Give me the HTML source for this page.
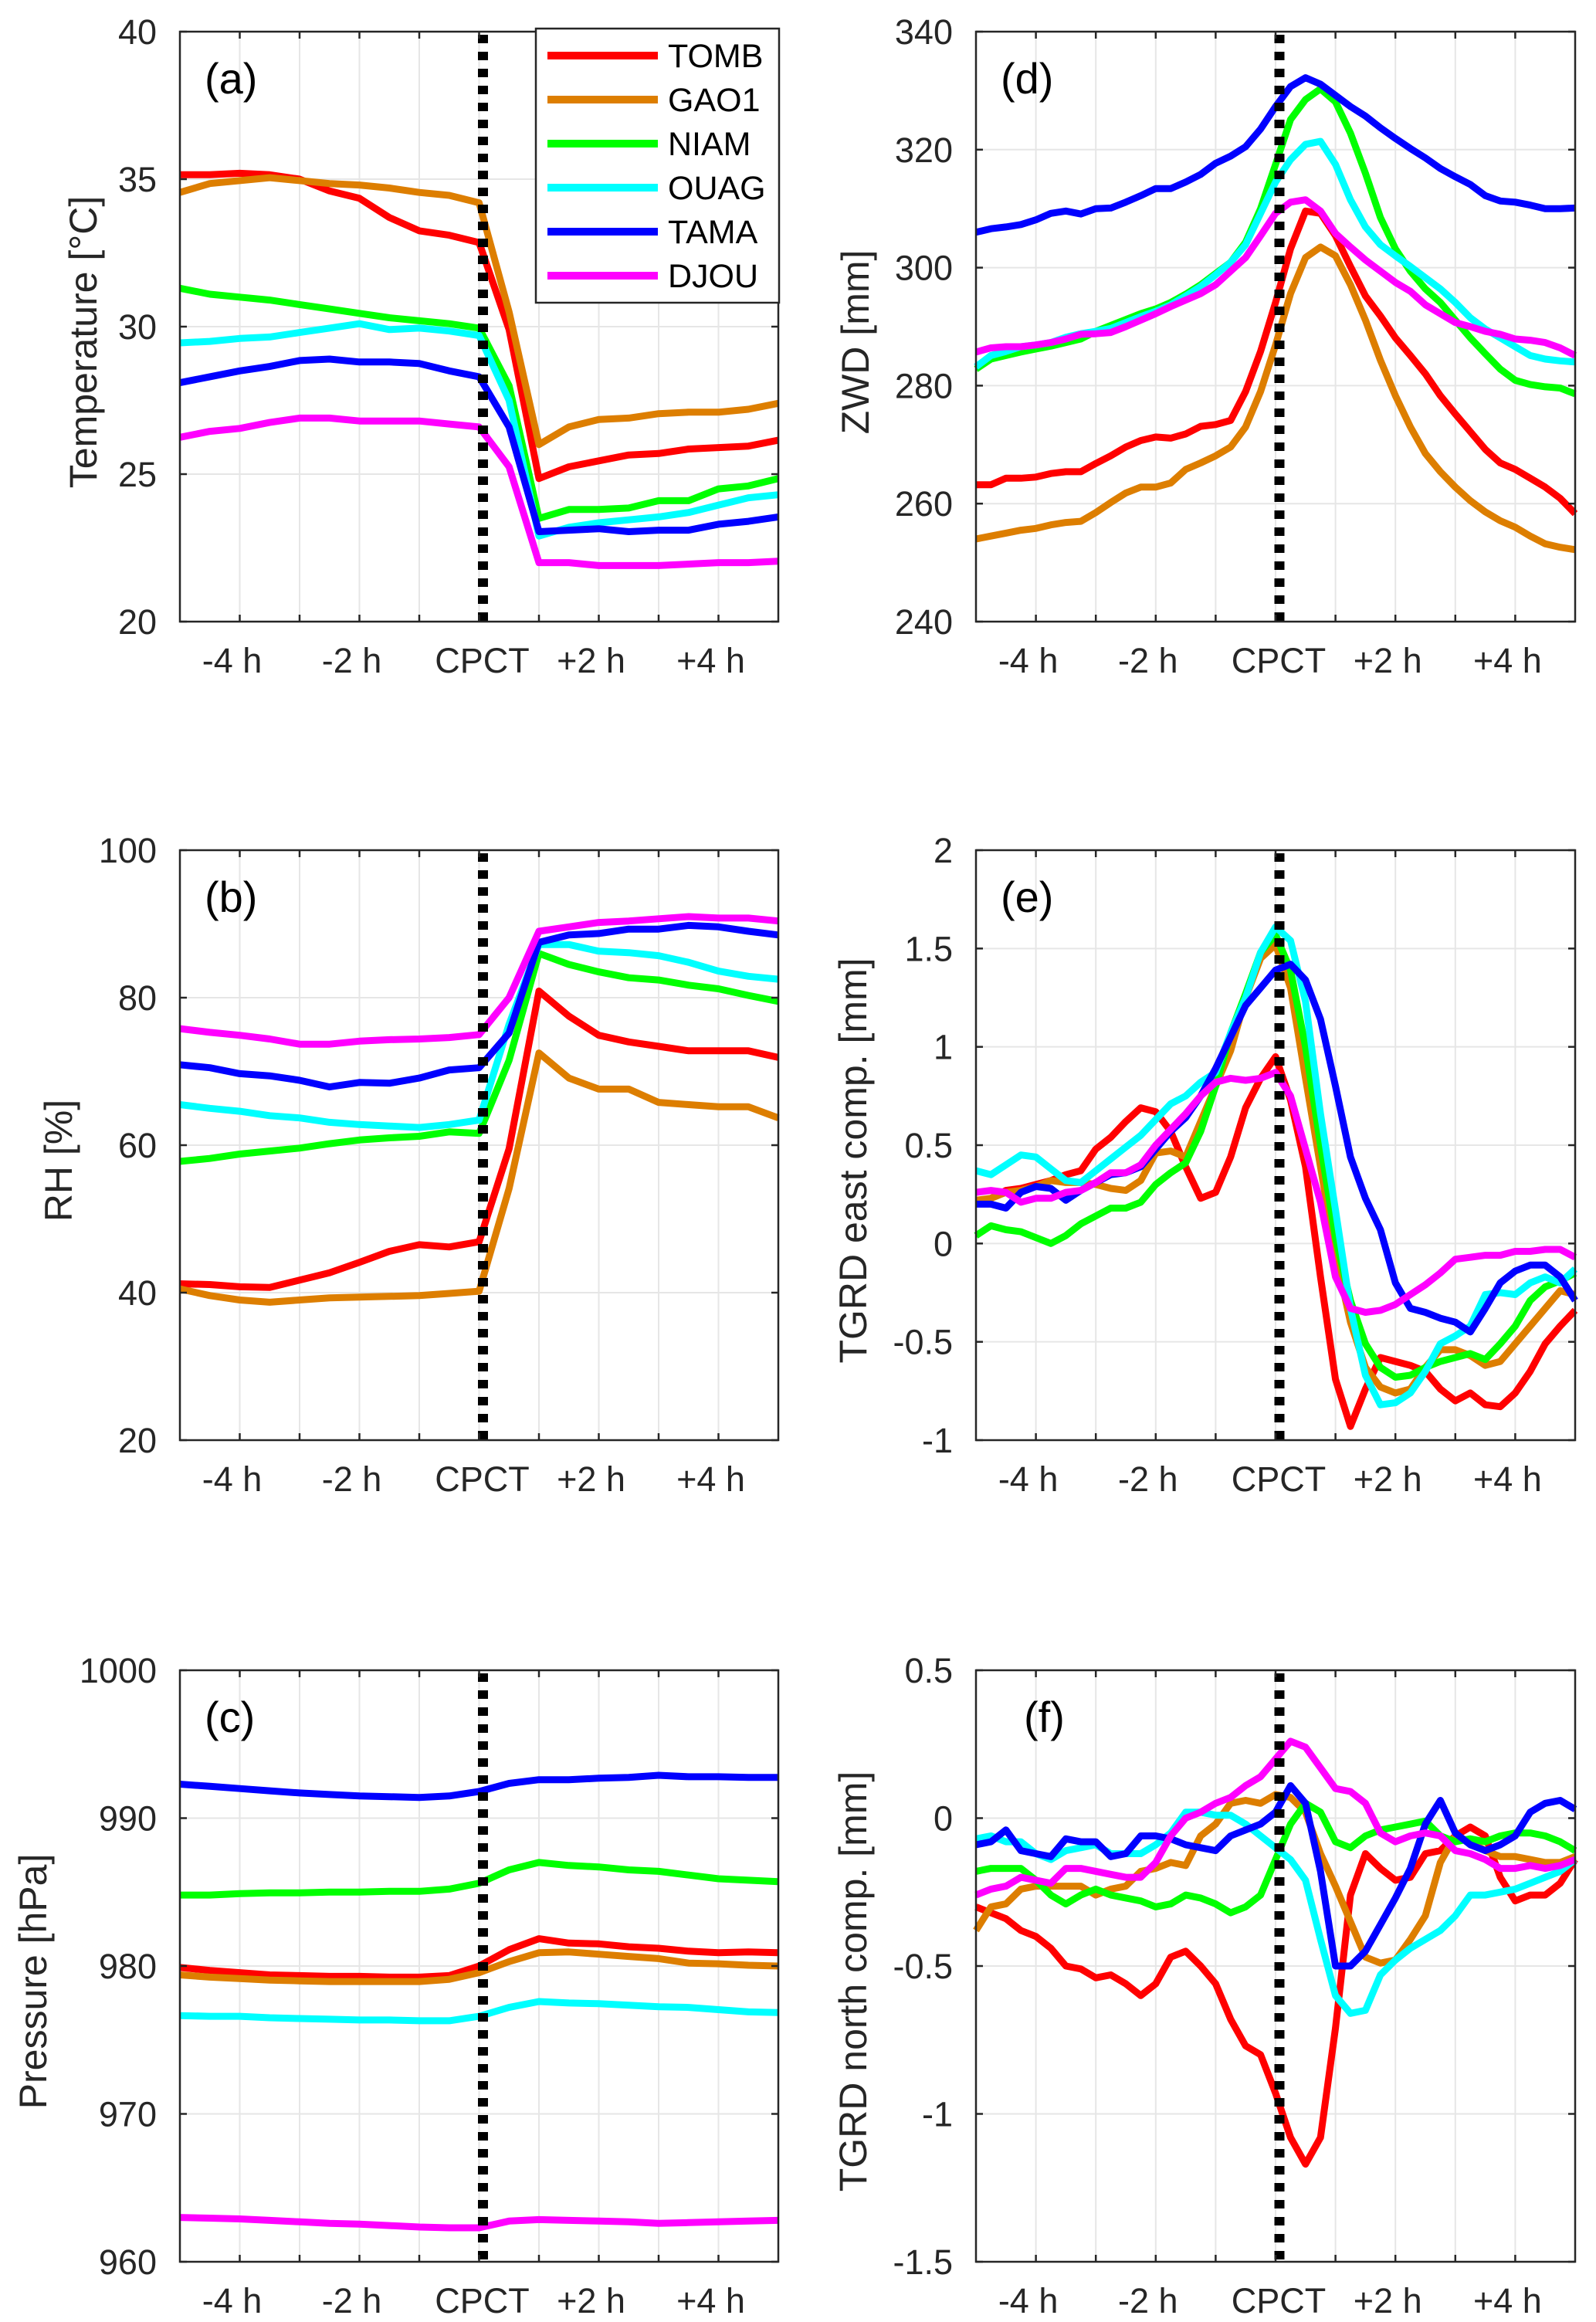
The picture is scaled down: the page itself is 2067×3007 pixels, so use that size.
<!DOCTYPE html>
<html><head><meta charset="utf-8"><style>
html,body{margin:0;padding:0;background:#fff}
svg{display:block}
text{font-family:"Liberation Sans",Arial,sans-serif}
</style></head><body>
<svg id="fig" width="2067" height="3007" viewBox="0 0 2067 3007" xmlns="http://www.w3.org/2000/svg"></svg>
<script>
const tHalf = [-5,-4.5,-4,-3.5,-3,-2.5,-2,-1.5,-1,-0.5,0,0.5,1,1.5,2,2.5,3,3.5,4,4.5,5];
const tQuarter = [-5,-4.75,-4.5,-4.25,-4,-3.75,-3.5,-3.25,-3,-2.75,-2.5,-2.25,-2,-1.75,-1.5,-1.25,-1,-0.75,-0.5,-0.25,0,0.25,0.5,0.75,1,1.25,1.5,1.75,2,2.25,2.5,2.75,3,3.25,3.5,3.75,4,4.25,4.5,4.75,5];
const stations = ["TOMB","GAO1","NIAM","OUAG","TAMA","DJOU"];
const colors = ["#ff0000","#dd7e00","#00ff00","#00ffff","#0000ff","#ff00ff"];
const xTickHours = [-4,-2,0,2,4];
const xTickLabels = ["-4 h","-2 h","CPCT","+2 h","+4 h"];

// (a) Temperature
const tempTOMB=[35.15,35.15,35.2,35.15,35.0,34.6,34.35,33.7,33.25,33.1,32.85,29.9,24.85,25.25,25.45,25.65,25.7,25.85,25.9,25.95,26.15];
const tempGAO1=[34.55,34.85,34.95,35.05,34.95,34.85,34.8,34.7,34.55,34.45,34.2,30.5,26.0,26.6,26.85,26.9,27.05,27.1,27.1,27.2,27.4];
const tempNIAM=[31.3,31.1,31.0,30.9,30.75,30.6,30.45,30.3,30.2,30.1,29.95,28.0,23.5,23.8,23.8,23.85,24.1,24.1,24.5,24.6,24.85];
const tempOUAG=[29.45,29.5,29.6,29.65,29.8,29.95,30.1,29.9,29.95,29.85,29.7,27.5,22.9,23.2,23.35,23.45,23.55,23.7,23.95,24.2,24.3];
const tempTAMA=[28.1,28.3,28.5,28.65,28.85,28.9,28.8,28.8,28.75,28.5,28.3,26.6,23.05,23.1,23.15,23.05,23.1,23.1,23.3,23.4,23.55];
const tempDJOU=[26.25,26.45,26.55,26.75,26.9,26.9,26.8,26.8,26.8,26.7,26.6,25.25,22.0,22.0,21.9,21.9,21.9,21.95,22.0,22.0,22.05];
// (b) RH
const rhTOMB=[41.2,41.1,40.8,40.7,41.7,42.7,44.1,45.6,46.5,46.2,46.9,59.5,80.9,77.5,74.9,74.0,73.4,72.8,72.8,72.8,71.9];
const rhGAO1=[40.5,39.6,39.0,38.7,39.0,39.3,39.4,39.5,39.6,39.9,40.2,54.1,72.5,69.1,67.6,67.6,65.8,65.5,65.2,65.2,63.7];
const rhNIAM=[57.8,58.2,58.8,59.2,59.6,60.2,60.7,61.0,61.2,61.8,61.6,71.5,86.0,84.5,83.5,82.7,82.4,81.7,81.2,80.3,79.5];
const rhOUAG=[65.5,65.0,64.6,64.0,63.7,63.1,62.8,62.6,62.4,62.8,63.4,76.4,87.2,87.2,86.3,86.1,85.7,84.8,83.6,82.9,82.5];
const rhTAMA=[70.9,70.5,69.7,69.4,68.8,67.9,68.5,68.4,69.1,70.2,70.5,75.2,87.5,88.5,88.7,89.3,89.3,89.8,89.6,89.0,88.5];
const rhDJOU=[75.8,75.3,74.9,74.4,73.7,73.7,74.1,74.3,74.4,74.6,75.0,80.0,89.0,89.6,90.2,90.4,90.7,91.0,90.8,90.8,90.4];
// (c) Pressure
const pTOMB=[979.9,979.7,979.55,979.4,979.35,979.3,979.3,979.25,979.25,979.35,980.0,981.1,981.85,981.55,981.5,981.3,981.2,981.0,980.9,980.95,980.9];
const pGAO1=[979.4,979.25,979.15,979.05,979.0,978.95,978.95,978.95,978.95,979.1,979.55,980.3,980.9,980.95,980.8,980.65,980.5,980.2,980.15,980.05,980.0];
const pNIAM=[984.8,984.8,984.9,984.95,984.95,985.0,985.0,985.05,985.05,985.2,985.6,986.5,987.0,986.8,986.7,986.5,986.4,986.15,985.9,985.8,985.7];
const pOUAG=[976.65,976.6,976.6,976.5,976.45,976.4,976.35,976.35,976.3,976.3,976.6,977.2,977.6,977.5,977.45,977.35,977.25,977.2,977.05,976.9,976.85];
const pTAMA=[992.3,992.15,992.0,991.85,991.7,991.6,991.5,991.45,991.4,991.5,991.8,992.35,992.6,992.6,992.7,992.75,992.9,992.8,992.8,992.75,992.75];
const pDJOU=[963.0,962.95,962.9,962.8,962.7,962.6,962.55,962.45,962.35,962.3,962.3,962.75,962.85,962.8,962.75,962.7,962.6,962.65,962.7,962.75,962.8];
// (d) ZWD
const zwdTOMB=[263.2,263.2,264.3,264.3,264.5,265.1,265.4,265.4,266.8,268.1,269.6,270.7,271.3,271.1,271.8,273.1,273.4,274.1,279.0,285.8,294.1,303.2,309.6,309.2,305.4,300.2,295.2,291.8,288.1,285.1,282.0,278.3,275.2,272.2,269.2,266.9,265.8,264.3,262.8,260.9,258.3];
const zwdGAO1=[254.0,254.5,255.0,255.5,255.8,256.4,256.8,257.0,258.5,260.2,261.8,262.8,262.8,263.5,265.8,266.9,268.1,269.6,273.0,279.0,286.9,295.6,301.7,303.5,302.0,297.1,291.1,284.3,278.3,273.0,268.5,265.4,262.8,260.5,258.6,257.1,256.0,254.5,253.2,252.6,252.2];
const zwdNIAM=[282.8,284.5,285.1,285.7,286.2,286.7,287.3,287.9,289.2,290.2,291.2,292.2,293.0,294.1,295.5,297.1,299.0,300.9,304.3,310.0,317.5,325.1,328.5,330.3,328.1,322.8,316.0,308.5,303.2,299.4,296.4,294.1,291.1,288.1,285.4,282.8,280.9,280.2,279.8,279.6,278.6];
const zwdOUAG=[283.2,285.1,285.8,286.6,286.9,287.3,288.2,288.8,289.2,289.7,290.7,291.7,292.6,293.7,295.2,296.8,298.8,300.9,303.9,309.2,314.5,318.3,320.9,321.4,317.5,311.5,306.9,303.9,302.0,300.2,298.3,296.4,294.1,291.5,289.6,288.1,286.6,285.1,284.5,284.2,284.0];
const zwdTAMA=[306.0,306.6,306.9,307.3,308.1,309.2,309.6,309.1,310.0,310.1,311.1,312.2,313.4,313.4,314.5,315.8,317.7,318.9,320.5,323.5,327.3,330.7,332.2,331.1,329.2,327.3,325.7,323.7,321.9,320.2,318.6,316.8,315.4,314.1,312.2,311.3,311.1,310.6,310.0,310.0,310.1];
const zwdDJOU=[285.7,286.4,286.6,286.6,286.9,287.3,287.9,288.7,288.8,289.0,290.0,291.1,292.2,293.4,294.5,295.6,297.1,299.4,301.7,305.4,309.2,311.1,311.5,309.6,305.8,303.5,301.3,299.4,297.5,296.0,293.7,292.2,290.7,290.0,289.2,288.7,287.9,287.7,287.3,286.4,285.1];
// (e) TGRD east
const eTOMB=[0.21,0.23,0.27,0.28,0.30,0.32,0.35,0.37,0.48,0.54,0.62,0.69,0.67,0.57,0.39,0.23,0.26,0.44,0.69,0.84,0.95,0.73,0.39,-0.17,-0.69,-0.93,-0.74,-0.58,-0.60,-0.62,-0.65,-0.74,-0.80,-0.76,-0.82,-0.83,-0.76,-0.65,-0.51,-0.42,-0.34];
const eGAO1=[0.22,0.23,0.26,0.27,0.29,0.32,0.31,0.31,0.30,0.28,0.27,0.32,0.46,0.47,0.44,0.62,0.80,0.98,1.25,1.45,1.52,1.30,0.84,0.39,-0.06,-0.40,-0.63,-0.73,-0.76,-0.74,-0.63,-0.54,-0.54,-0.57,-0.62,-0.60,-0.51,-0.42,-0.33,-0.24,-0.26];
const eNIAM=[0.04,0.09,0.07,0.06,0.03,0.00,0.04,0.10,0.14,0.18,0.18,0.21,0.30,0.36,0.41,0.57,0.80,1.07,1.27,1.48,1.57,1.39,1.00,0.50,0.03,-0.29,-0.51,-0.63,-0.68,-0.67,-0.63,-0.60,-0.58,-0.56,-0.59,-0.51,-0.42,-0.29,-0.22,-0.19,-0.15];
const eOUAG=[0.37,0.35,0.40,0.45,0.44,0.38,0.32,0.31,0.37,0.43,0.49,0.55,0.63,0.71,0.75,0.82,0.87,1.07,1.25,1.48,1.61,1.54,1.23,0.66,0.17,-0.33,-0.67,-0.82,-0.81,-0.76,-0.65,-0.51,-0.47,-0.42,-0.26,-0.25,-0.26,-0.20,-0.17,-0.20,-0.13];
const eTAMA=[0.20,0.20,0.18,0.26,0.29,0.28,0.22,0.27,0.31,0.35,0.36,0.39,0.48,0.57,0.64,0.75,0.89,1.05,1.21,1.30,1.39,1.42,1.34,1.14,0.80,0.44,0.23,0.07,-0.20,-0.33,-0.35,-0.38,-0.40,-0.45,-0.33,-0.20,-0.14,-0.11,-0.11,-0.17,-0.29];
const eDJOU=[0.26,0.27,0.26,0.21,0.23,0.23,0.26,0.27,0.31,0.36,0.36,0.40,0.50,0.58,0.66,0.75,0.82,0.84,0.83,0.84,0.87,0.75,0.48,0.21,-0.17,-0.33,-0.35,-0.34,-0.31,-0.26,-0.21,-0.15,-0.08,-0.07,-0.06,-0.06,-0.04,-0.04,-0.03,-0.03,-0.07];
// (f) TGRD north
const nTOMB=[-0.30,-0.32,-0.34,-0.38,-0.40,-0.44,-0.50,-0.51,-0.54,-0.53,-0.56,-0.60,-0.56,-0.47,-0.45,-0.50,-0.56,-0.68,-0.77,-0.80,-0.93,-1.08,-1.17,-1.08,-0.71,-0.26,-0.12,-0.17,-0.21,-0.20,-0.12,-0.11,-0.06,-0.03,-0.06,-0.20,-0.28,-0.26,-0.26,-0.22,-0.14];
const nGAO1=[-0.38,-0.30,-0.29,-0.24,-0.23,-0.23,-0.23,-0.23,-0.26,-0.24,-0.23,-0.18,-0.17,-0.15,-0.16,-0.06,-0.02,0.05,0.06,0.05,0.08,0.07,0.02,-0.12,-0.23,-0.35,-0.47,-0.49,-0.48,-0.41,-0.33,-0.15,-0.06,-0.08,-0.11,-0.13,-0.13,-0.14,-0.15,-0.15,-0.13];
const nNIAM=[-0.18,-0.17,-0.17,-0.17,-0.21,-0.26,-0.29,-0.26,-0.24,-0.26,-0.27,-0.28,-0.30,-0.29,-0.26,-0.27,-0.29,-0.32,-0.30,-0.26,-0.14,-0.02,0.05,0.02,-0.08,-0.10,-0.06,-0.04,-0.03,-0.02,-0.01,-0.06,-0.08,-0.07,-0.08,-0.06,-0.05,-0.05,-0.06,-0.08,-0.11];
const nOUAG=[-0.07,-0.06,-0.08,-0.08,-0.12,-0.14,-0.11,-0.10,-0.09,-0.12,-0.12,-0.12,-0.09,-0.05,0.02,0.02,0.01,0.01,-0.02,-0.06,-0.10,-0.14,-0.21,-0.41,-0.60,-0.66,-0.65,-0.53,-0.48,-0.44,-0.41,-0.38,-0.33,-0.26,-0.26,-0.25,-0.24,-0.22,-0.20,-0.18,-0.14];
const nTAMA=[-0.09,-0.08,-0.04,-0.11,-0.12,-0.13,-0.07,-0.08,-0.08,-0.13,-0.12,-0.06,-0.06,-0.07,-0.09,-0.10,-0.11,-0.06,-0.04,-0.02,0.02,0.11,0.05,-0.18,-0.50,-0.50,-0.45,-0.36,-0.27,-0.17,-0.02,0.06,-0.05,-0.09,-0.11,-0.09,-0.06,0.02,0.05,0.06,0.03];
const nDJOU=[-0.26,-0.24,-0.23,-0.20,-0.21,-0.22,-0.17,-0.17,-0.18,-0.19,-0.20,-0.20,-0.15,-0.06,0.00,0.02,0.05,0.07,0.11,0.14,0.20,0.26,0.24,0.17,0.10,0.09,0.05,-0.05,-0.08,-0.06,-0.05,-0.06,-0.11,-0.12,-0.14,-0.17,-0.17,-0.16,-0.17,-0.16,-0.14];

const yTicksA=[20,25,30,35,40], yTicksB=[20,40,60,80,100], yTicksC=[960,970,980,990,1000];
const yTicksD=[240,260,280,300,320,340], yTicksE=[-1,-0.5,0,0.5,1,1.5,2], yTicksF=[-1.5,-1,-0.5,0,0.5];

const NS="http://www.w3.org/2000/svg";
const svg=document.getElementById('fig');
function mk(tag,attrs,parent){const e=document.createElementNS(NS,tag);for(const k in attrs)e.setAttribute(k,attrs[k]);(parent||svg).appendChild(e);return e;}

const panels=[
 {id:'a',x0:233,x1:1008,y0:41,y1:805,ymin:20,ymax:40,ticks:yTicksA,label:'Temperature [°C]',lx:108,t:tHalf,series:[tempTOMB,tempGAO1,tempNIAM,tempOUAG,tempTAMA,tempDJOU],legend:true},
 {id:'b',x0:233,x1:1008,y0:1101,y1:1865,ymin:20,ymax:100,ticks:yTicksB,label:'RH [%]',lx:76,t:tHalf,series:[rhTOMB,rhGAO1,rhNIAM,rhOUAG,rhTAMA,rhDJOU]},
 {id:'c',x0:233,x1:1008,y0:2163,y1:2929,ymin:960,ymax:1000,ticks:yTicksC,label:'Pressure [hPa]',lx:43,t:tHalf,series:[pTOMB,pGAO1,pNIAM,pOUAG,pTAMA,pDJOU]},
 {id:'d',x0:1264,x1:2040,y0:41,y1:805,ymin:240,ymax:340,ticks:yTicksD,label:'ZWD [mm]',lx:1108,t:tQuarter,series:[zwdTOMB,zwdGAO1,zwdNIAM,zwdOUAG,zwdTAMA,zwdDJOU]},
 {id:'e',x0:1264,x1:2040,y0:1101,y1:1865,ymin:-1,ymax:2,ticks:yTicksE,label:'TGRD east comp. [mm]',lx:1105,t:tQuarter,series:[eTOMB,eGAO1,eNIAM,eOUAG,eTAMA,eDJOU]},
 {id:'f',x0:1264,x1:2040,y0:2163,y1:2929,ymin:-1.5,ymax:0.5,ticks:yTicksF,label:'TGRD north comp. [mm]',lx:1105,t:tQuarter,series:[nTOMB,nGAO1,nNIAM,nOUAG,nTAMA,nDJOU]}
];

panels.forEach(p=>{
  const g=mk('g',{});
  
  
  const xs=h=>p.x0+(h+5)/10*(p.x1-p.x0);
  const ys=v=>p.y1-(v-p.ymin)/(p.ymax-p.ymin)*(p.y1-p.y0);
  // grid
  for(let h=-4;h<=4;h++){
    const l=mk('line',{x1:xs(h),x2:xs(h),y1:p.y0,y2:p.y1,stroke:'#e6e6e6','stroke-width':2},g);
    
    
  }
  p.ticks.forEach(v=>{
    const l=mk('line',{x1:p.x0,x2:p.x1,y1:ys(v),y2:ys(v),stroke:'#e6e6e6','stroke-width':2},g);
    
    
  });
  // series
  p.series.forEach((arr,i)=>{
    const d=arr.map((v,k)=>(k?'L':'M')+xs(p.t[k]).toFixed(1)+','+ys(v).toFixed(1)).join(' ');
    const path=mk('path',{d:d,fill:'none',stroke:colors[i],'stroke-width':9,'stroke-linejoin':'round','stroke-linecap':'butt'},g);
    
    
  });
  // CPCT line
  const cp=mk('line',{x1:xs(0)+5,x2:xs(0)+5,y1:p.y0+4,y2:p.y1,stroke:'#000','stroke-width':13,'stroke-dasharray':'11 11'},g);
  
  
  // axes box
  const box=mk('rect',{x:p.x0,y:p.y0,width:p.x1-p.x0,height:p.y1-p.y0,fill:'none',stroke:'#262626','stroke-width':2.5},g);
  
  
  for(let h=-4;h<=4;h++){
    mk('line',{x1:xs(h),x2:xs(h),y1:p.y1,y2:p.y1-9,stroke:'#262626','stroke-width':2.5},g);
    mk('line',{x1:xs(h),x2:xs(h),y1:p.y0,y2:p.y0+9,stroke:'#262626','stroke-width':2.5},g);
  }
  p.ticks.forEach(v=>{
    mk('line',{x1:p.x0,x2:p.x0+9,y1:ys(v),y2:ys(v),stroke:'#262626','stroke-width':2.5},g);
    mk('line',{x1:p.x1,x2:p.x1-9,y1:ys(v),y2:ys(v),stroke:'#262626','stroke-width':2.5},g);
    const t=mk('text',{x:p.x0-30,y:ys(v)+16,'text-anchor':'end','font-size':45,fill:'#262626'},g);
    t.textContent=String(v);
    
    
  });
  xTickHours.forEach((h,i)=>{
    const t=mk('text',{x:xs(h)+(h===0?4:-10),y:p.y1+66,'text-anchor':'middle','font-size':45,fill:'#262626'},g);
    t.textContent=xTickLabels[i];
    
    
  });
  const cy=(p.y0+p.y1)/2+20;
  const yl=mk('text',{x:p.lx,y:cy,'text-anchor':'middle','dominant-baseline':'central','font-size':50,fill:'#262626',transform:'rotate(-90 '+p.lx+' '+cy+')'},g);
  yl.textContent=p.label;
  
  
  const pl=mk('text',{x:p.id==='f'?p.x0+62:p.x0+32,y:p.y0+80,'font-size':56,fill:'#000'},g);
  pl.textContent='('+p.id+')';
  
  

  if(p.legend){
    const lg=mk('g',{},g);
    
    
    mk('rect',{x:694,y:37,width:315,height:355,fill:'#fff',stroke:'#262626','stroke-width':2.5},lg);
    stations.forEach((s,i)=>{
      const yy=72+i*57;
      const e=mk('g',{},lg);
      
      
      mk('line',{x1:709,x2:852,y1:yy,y2:yy,stroke:colors[i],'stroke-width':10},e);
      const t=mk('text',{x:865,y:yy+15,'font-size':43,fill:'#000'},e);
      t.textContent=s;
    });
  }
});
</script>
</body></html>
